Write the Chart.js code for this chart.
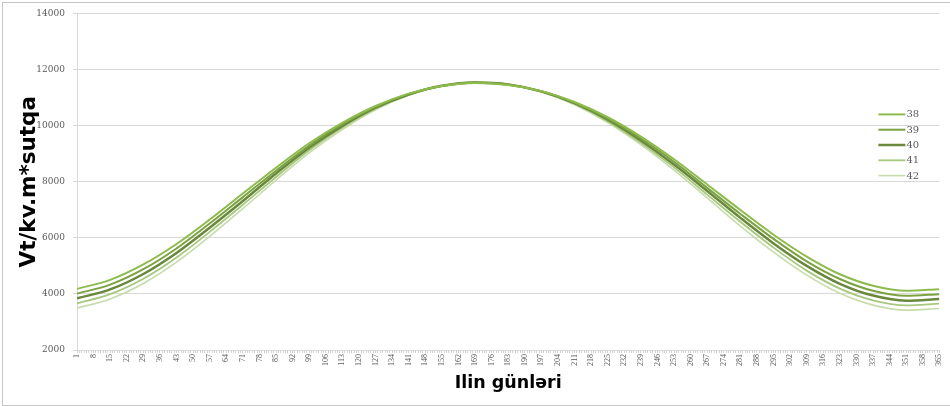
<!DOCTYPE html>
<html>
<head>
<meta charset="utf-8">
<script src="https://cdn.jsdelivr.net/npm/chart.js@4.4.1/dist/chart.umd.min.js"></script>
<style>
  html, body { margin: 0; padding: 0; background: #ffffff; }
  #wrap { position: relative; width: 950px; height: 406px; overflow: hidden; }
  #wrap canvas { position: absolute; left: 0; top: 0; }
  #frame { position: absolute; left: 2px; top: 2px; width: 970px; height: 404px;
           border: 1px solid #c6c6c6; box-sizing: border-box; pointer-events: none; }
</style>
</head>
<body>
<div id="wrap">
  <canvas id="chart" width="950" height="406"></canvas>
  <div id="frame"></div>
</div>
<script>
// Day of the year for each sample
const days = [1, 15, 29, 43, 57, 71, 85, 99, 113, 127, 141, 155, 169, 183,
              197, 211, 225, 239, 253, 267, 281, 295, 309, 323, 337, 351, 365];

// Daily radiation, Vt/kv.m*sutqa, by latitude
const lat38 = [4180, 4500, 5050, 5780, 6650, 7580, 8500, 9370, 10100, 10700, 11140, 11410, 11520, 11450,
               11230, 10840, 10300, 9610, 8800, 7900, 6990, 6110, 5330, 4700, 4290, 4110, 4170];
const lat39 = [4010, 4330, 4880, 5620, 6510, 7450, 8390, 9290, 10050, 10670, 11130, 11410, 11530, 11460,
               11230, 10820, 10250, 9540, 8710, 7780, 6850, 5960, 5160, 4530, 4110, 3930, 3990];
const lat40 = [3840, 4160, 4710, 5460, 6360, 7310, 8290, 9210, 9990, 10640, 11110, 11420, 11540, 11470,
               11220, 10800, 10210, 9470, 8610, 7670, 6710, 5800, 5000, 4360, 3940, 3760, 3820];
const lat41 = [3660, 3990, 4540, 5300, 6210, 7180, 8170, 9120, 9930, 10600, 11100, 11420, 11540, 11470,
               11210, 10770, 10160, 9390, 8510, 7540, 6570, 5650, 4830, 4190, 3770, 3590, 3650];
const lat42 = [3490, 3820, 4370, 5130, 6050, 7040, 8060, 9030, 9860, 10560, 11080, 11410, 11540, 11470,
               11200, 10740, 10110, 9320, 8410, 7420, 6420, 5490, 4670, 4020, 3600, 3420, 3480];

const seriesNames = ['38', '39', '40', '41', '42'];

// Day numbers printed under the axis
const xTickLabels = [1, 8, 15, 22, 29, 36, 43, 50, 57, 64, 71, 78, 85, 92, 99, 106, 113, 120, 127,
                     134, 141, 148, 155, 162, 169, 176, 183, 190, 197, 204, 211, 218, 225, 232, 239,
                     246, 253, 260, 267, 274, 281, 288, 295, 302, 309, 316, 323, 330, 337, 344, 351,
                     358, 365];
const yTickLabels = [2000, 4000, 6000, 8000, 10000, 12000, 14000];

const lineColors = ['#8dbb4c', '#7aa23f', '#6a883c', '#a5c87c', '#c6dcab'];
const lineWidths = [2, 2, 2.5, 1.8, 1.6];

const seriesValues = [lat38, lat39, lat40, lat41, lat42];
const datasets = seriesNames.map((name, s) => ({
  label: name,
  data: seriesValues[s].map((v, i) => ({ x: days[i], y: v })),
  borderColor: lineColors[s],
  backgroundColor: lineColors[s],
  borderWidth: lineWidths[s],
  pointRadius: 0,
  cubicInterpolationMode: 'monotone',
  fill: false
}));

// Legend drawn inside the plot, at its right side
const sideLegend = {
  id: 'sideLegend',
  afterDatasetsDraw(chart) {
    const { ctx, chartArea } = chart;
    const x0 = chartArea.right - 61;
    const y0 = chartArea.top + 101;
    const step = 15.3;
    ctx.save();
    ctx.font = '10px "DejaVu Serif"';
    ctx.textBaseline = 'middle';
    ctx.textAlign = 'left';
    chart.data.datasets.forEach((ds, i) => {
      const y = y0 + i * step;
      ctx.strokeStyle = ds.borderColor;
      ctx.lineWidth = ds.borderWidth;
      ctx.beginPath();
      ctx.moveTo(x0, y);
      ctx.lineTo(x0 + 27, y);
      ctx.stroke();
      ctx.fillStyle = '#595959';
      ctx.fillText(ds.label, x0 + 28, y + 0.5);
    });
    ctx.restore();
  }
};

new Chart(document.getElementById('chart'), {
  type: 'line',
  data: { datasets },
  plugins: [sideLegend],
  options: {
    responsive: false,
    animation: false,
    devicePixelRatio: 1,
    layout: { padding: { top: 12, right: 4, bottom: 0, left: 0 } },
    plugins: { legend: { display: false }, tooltip: { enabled: false } },
    scales: {
      x: {
        type: 'linear',
        min: 1,
        max: 365,
        afterFit(scale) { scale.height = 56; },
        ticks: {
          stepSize: 1,
          autoSkip: false,
          minRotation: 90,
          maxRotation: 90,
          padding: 1,
          color: '#595959',
          font: { family: 'Liberation Serif', size: 8 },
          callback: (v) => (xTickLabels.includes(v) ? String(v) : '')
        },
        grid: { drawOnChartArea: false, drawTicks: true, tickLength: 3, color: '#d4d4d4' },
        border: { display: true, color: '#d9d9d9' },
        title: {
          display: true,
          text: 'Ilin günləri',
          color: '#000000',
          font: { family: 'DejaVu Sans', weight: 'bold', size: 17.5 },
          padding: { top: 0, bottom: 12 }
        }
      },
      y: {
        min: 2000,
        max: 14000,
        afterFit(scale) { scale.width = 77; },
        afterBuildTicks(scale) { scale.ticks = yTickLabels.map(v => ({ value: v })); },
        ticks: {
          stepSize: 2000,
          padding: 8,
          color: '#595959',
          font: { family: 'DejaVu Serif', size: 9 },
          callback: (v) => String(v)
        },
        grid: { color: '#d9d9d9', tickLength: 4, drawTicks: true },
        border: { display: true, color: '#d9d9d9' },
        title: {
          display: true,
          text: 'Vt/kv.m*sutqa',
          color: '#000000',
          font: { family: 'DejaVu Sans', weight: 'bold', size: 21.5 },
          padding: { top: 17, bottom: 0 }
        }
      }
    }
  }
});
</script>
</body>
</html>
